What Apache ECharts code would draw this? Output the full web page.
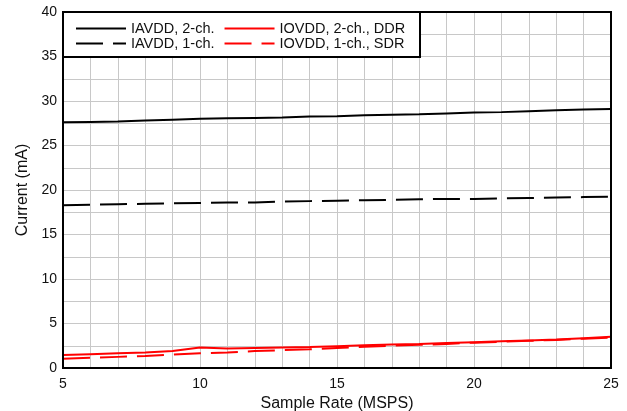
<!DOCTYPE html>
<html>
<head>
<meta charset="utf-8">
<script src="https://cdn.jsdelivr.net/npm/echarts@6/dist/echarts.min.js"></script>
<style>
  html, body { margin: 0; padding: 0; background: #fff; }
  #chart { width: 627px; height: 411px; }
</style>
</head>
<body>
<div id="chart"></div>
<script>
  // sample rate (MSPS)
  var rates = [5, 6, 7, 8, 9, 10, 11, 12, 13, 14, 15, 16, 17, 18, 19, 20, 21, 22, 23, 24, 25];
  // current (mA)
  var iavdd2ch = [27.6, 27.65, 27.7, 27.8, 27.9, 28.0, 28.05, 28.1, 28.15, 28.25, 28.3, 28.4, 28.45, 28.5, 28.6, 28.7, 28.75, 28.85, 28.95, 29.05, 29.1];
  var iavdd1ch = [18.3, 18.35, 18.4, 18.45, 18.5, 18.55, 18.6, 18.6, 18.7, 18.75, 18.8, 18.85, 18.9, 18.95, 19.0, 19.0, 19.05, 19.1, 19.15, 19.2, 19.25];
  var iovddDdr = [1.45, 1.55, 1.65, 1.75, 1.9, 2.3, 2.2, 2.25, 2.3, 2.35, 2.45, 2.55, 2.65, 2.7, 2.8, 2.9, 3.0, 3.1, 3.2, 3.35, 3.5];
  var iovddSdr = [1.05, 1.15, 1.25, 1.35, 1.5, 1.65, 1.75, 1.9, 2.0, 2.1, 2.25, 2.4, 2.5, 2.6, 2.7, 2.85, 2.95, 3.05, 3.15, 3.3, 3.4];

  var font = 'Liberation Sans, Arial, sans-serif';

  function pairs(ys) {
    return rates.map(function (x, i) { return [x, ys[i]]; });
  }

  function line(name, ys, color, dash) {
    return {
      name: name,
      type: 'line',
      data: pairs(ys),
      symbol: 'none',
      z: 2,
      itemStyle: { color: color },
      lineStyle: { color: color, width: 2, type: dash ? [27, 10] : 'solid' }
    };
  }

  var legendBase = {
    left: 70,
    itemWidth: 50, itemHeight: 10, itemGap: 9,
    z: 5,
    itemStyle: { opacity: 0 },
    textStyle: { fontFamily: font, fontSize: 14.5, color: '#111' }
  };

  var chart = echarts.init(document.getElementById('chart'));
  chart.setOption({
    animation: false,
    grid: {
      left: 63, right: 16, top: 12, bottom: 43,
      outerBoundsMode: 'none',
      show: true, borderColor: '#000', borderWidth: 2, z: 3
    },
    graphic: [{
      type: 'rect',
      z: 3,
      shape: { x: 63, y: 12, width: 357, height: 45 },
      style: { fill: '#fff', stroke: '#000', lineWidth: 2 }
    }],
    legend: [
      Object.assign({}, legendBase, { top: 16, data: ['IAVDD, 2-ch.', 'IOVDD, 2-ch., DDR'] }),
      Object.assign({}, legendBase, { top: 31, data: ['IAVDD, 1-ch.', 'IOVDD, 1-ch., SDR'] })
    ],
    xAxis: {
      type: 'value',
      min: 5, max: 25, interval: 1,
      name: 'Sample Rate (MSPS)',
      nameLocation: 'middle',
      nameGap: 25,
      nameTextStyle: { fontFamily: font, fontSize: 16, color: '#111' },
      axisLine: { show: false },
      axisTick: { show: false },
      axisLabel: {
        fontFamily: font, fontSize: 14, color: '#111', margin: 9,
        formatter: function (v) { return v % 5 === 0 ? v : ''; }
      },
      splitLine: { show: true, lineStyle: { color: '#c8c8c8', width: 1 } }
    },
    yAxis: {
      type: 'value',
      min: 0, max: 40, interval: 2.5,
      name: 'Current (mA)',
      nameLocation: 'middle',
      nameGap: 31,
      nameTextStyle: { fontFamily: font, fontSize: 16, color: '#111' },
      axisLine: { show: false },
      axisTick: { show: false },
      axisLabel: {
        fontFamily: font, fontSize: 14, color: '#111', margin: 6,
        formatter: function (v) { return v % 5 === 0 ? v : ''; }
      },
      splitLine: { show: true, lineStyle: { color: '#c8c8c8', width: 1 } }
    },
    series: [
      line('IAVDD, 2-ch.', iavdd2ch, '#000', false),
      line('IOVDD, 2-ch., DDR', iovddDdr, '#ff0000', false),
      line('IAVDD, 1-ch.', iavdd1ch, '#000', true),
      line('IOVDD, 1-ch., SDR', iovddSdr, '#ff0000', true)
    ]
  });
</script>
</body>
</html>
